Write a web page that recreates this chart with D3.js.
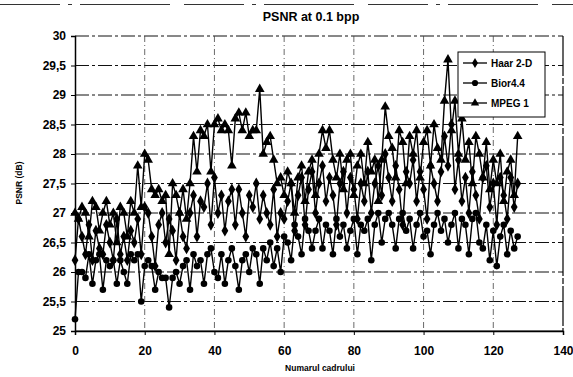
<!DOCTYPE html>
<html>
<head>
<meta charset="utf-8">
<script src="https://cdn.jsdelivr.net/npm/d3@7"></script>
<style>
  body { margin: 0; background: #fff; }
  svg { display: block; }
</style>
</head>
<body>
<div id="chart"></div>
<script>
// PSNR per frame
const haar = [26.2,26.9,26.6,26.3,26.8,26.2,26.7,26.4,26.3,26.8,26.5,26.2,26.9,26.3,26.6,26.2,
  26.7,26.5,26.9,26.3,27.1,27.0,26.6,26.1,26.8,27.0,26.5,26.9,26.7,26.2,27.0,26.6,
  26.4,27.0,27.3,26.6,27.2,27.1,27.5,26.8,27.6,27.0,27.3,26.7,27.2,27.4,26.8,27.4,
  27.0,26.6,27.3,27.1,27.5,26.9,27.3,27.0,26.8,27.4,26.6,27.0,26.9,27.2,27.5,26.7,
  27.3,27.6,26.8,27.4,27.7,27.0,27.5,27.8,27.2,27.6,27.3,26.8,27.5,27.7,27.0,27.6,
  27.4,26.9,27.5,27.2,27.7,27.0,27.5,27.8,27.3,28.0,27.6,27.2,27.8,27.4,26.8,27.7,
  27.5,27.9,27.2,27.7,27.4,26.9,27.8,27.5,27.2,27.7,28.3,27.8,28.5,27.4,27.9,27.2,
  27.6,27.0,27.7,27.3,26.9,27.6,27.8,27.1,27.5,26.8,27.6,27.3,26.9,27.6,27.1,27.5];

const bior = [25.2,26.0,26.0,25.9,26.3,25.8,26.2,26.3,25.7,26.2,26.1,26.2,25.8,26.2,26.0,25.8,
  26.3,26.2,26.3,25.5,26.1,26.2,26.1,25.7,26.0,25.9,25.9,25.4,25.9,26.0,25.8,26.1,
  26.2,25.7,26.3,26.1,26.2,25.8,26.3,26.4,26.0,25.9,26.3,25.8,26.2,26.4,26.1,25.7,
  26.2,26.3,26.0,26.4,26.3,25.8,26.4,26.2,26.5,26.1,26.4,26.0,26.6,26.5,26.2,26.8,
  26.6,26.3,26.9,26.7,26.4,26.7,26.9,26.4,26.8,26.7,26.3,26.9,26.6,26.8,26.4,26.7,
  26.9,26.3,26.8,26.7,26.9,26.2,26.8,27.0,26.5,26.9,27.0,26.8,26.4,26.9,27.0,26.7,
  26.9,26.4,26.8,27.0,26.6,26.7,26.3,26.8,27.0,26.7,26.9,26.5,26.8,27.0,26.4,26.9,
  26.8,26.3,26.9,27.0,26.5,26.4,26.8,26.2,26.7,26.1,26.6,26.8,26.3,26.7,26.4,26.6];

const mpeg = [27.0,26.9,27.1,27.0,26.6,27.2,27.1,26.7,27.0,27.2,26.8,27.0,26.5,27.1,27.0,26.6,
  27.2,27.0,27.8,27.1,28.0,27.9,27.4,27.3,27.4,27.2,27.3,26.3,27.5,27.3,27.0,27.4,
  26.9,27.5,28.3,27.7,28.4,28.3,28.5,27.7,28.5,28.6,28.4,28.5,28.4,27.8,28.6,28.7,
  28.4,28.7,28.3,28.4,28.4,29.1,28.0,28.2,28.3,27.9,27.5,27.6,27.3,27.7,27.5,27.0,
  27.6,27.8,27.2,27.7,27.9,27.3,28.0,28.4,28.1,28.4,27.9,27.6,28.0,27.4,27.9,28.0,
  27.3,27.8,28.0,27.5,28.2,27.7,27.9,27.2,27.9,28.8,28.3,28.1,27.6,28.4,28.2,27.5,
  28.3,28.0,28.4,27.6,28.2,28.4,27.8,28.5,28.1,27.9,28.9,29.6,28.4,28.9,28.0,28.6,
  27.9,28.2,27.5,28.3,28.0,27.6,28.2,27.4,27.9,27.5,28.0,27.2,27.7,27.9,27.3,28.3];

const seriesNames = ["Haar 2-D", "Bior4.4", "MPEG 1"];
const yTicks = [25, 25.5, 26, 26.5, 27, 27.5, 28, 28.5, 29, 29.5, 30];
const xTicks = [0, 20, 40, 60, 80, 100, 120, 140];

const width = 573, height = 377;
const margin = { top: 36, right: 10, bottom: 46, left: 75 };

const svg = d3.select("#chart").append("svg")
  .attr("width", width)
  .attr("height", height);

// top edge of the scanned chart frame
svg.append("line")
  .attr("x1", 0).attr("x2", width)
  .attr("y1", 4.5).attr("y2", 4.5)
  .attr("stroke", "#333")
  .attr("stroke-width", 1.2)
  .attr("stroke-dasharray", "60,8,4,8,90,14");

const x = d3.scaleLinear().domain([0, 140]).range([margin.left, width - margin.right]);
const y = d3.scaleLinear().domain([25, 30]).range([height - margin.bottom, margin.top]);

// horizontal grid
svg.append("g")
  .selectAll("line")
  .data(yTicks)
  .join("line")
  .attr("x1", x(0)).attr("x2", x(140))
  .attr("y1", d => y(d)).attr("y2", d => y(d))
  .attr("stroke", "#111")
  .attr("stroke-width", 1)
  .attr("stroke-dasharray", d => d === 25 ? null : "14,3,3,3");

// vertical grid
svg.append("g")
  .selectAll("line")
  .data(xTicks.slice(1, -1))
  .join("line")
  .attr("x1", d => x(d)).attr("x2", d => x(d))
  .attr("y1", y(30)).attr("y2", y(25))
  .attr("stroke", "#444")
  .attr("stroke-width", 0.8)
  .attr("stroke-dasharray", "6,3,1,3");

// right edge of plot area
svg.append("line")
  .attr("x1", x(140)).attr("x2", x(140))
  .attr("y1", y(30)).attr("y2", y(25))
  .attr("stroke", "#000")
  .attr("stroke-width", 1.2)
  .attr("stroke-dasharray", "40,2,6,2");

// axes
const yAxis = svg.append("g")
  .attr("transform", `translate(${x(0)},0)`)
  .call(d3.axisLeft(y).tickValues(yTicks).tickSize(4)
    .tickFormat(d => String(d).replace(".", ",")));
const xAxis = svg.append("g")
  .attr("transform", `translate(0,${y(25)})`)
  .call(d3.axisBottom(x).tickValues(xTicks).tickSize(4));

[xAxis, yAxis].forEach(g => {
  g.select(".domain").attr("stroke", "#000").attr("stroke-width", 1.5);
  g.selectAll(".tick line").attr("stroke", "#000");
  g.selectAll("text")
    .attr("font-family", "Liberation Sans, Arial, sans-serif")
    .attr("font-size", 12)
    .attr("font-weight", "bold")
    .attr("fill", "#000");
});
yAxis.selectAll("text").attr("x", -9);
xAxis.selectAll("text").attr("y", 15);

// series
const frames = d3.range(haar.length);
const symbols = [d3.symbolDiamond, d3.symbolCircle, d3.symbolTriangle];
const allSeries = [haar, bior, mpeg];
const line = d3.line().x((d, i) => x(i)).y(d => y(d));

allSeries.forEach((vals, k) => {
  const g = svg.append("g");
  g.append("path")
    .datum(vals)
    .attr("d", line)
    .attr("fill", "none")
    .attr("stroke", "#000")
    .attr("stroke-width", 1.4);
  g.selectAll("path.m")
    .data(frames)
    .join("path")
    .attr("class", "m")
    .attr("transform", i => `translate(${x(i)},${y(vals[i])})`)
    .attr("d", d3.symbol().type(symbols[k]).size(k === 1 ? 34 : 40))
    .attr("fill", "#000");
});

// legend
const legend = svg.append("g").attr("transform", "translate(458,52)");
legend.append("rect")
  .attr("width", 87).attr("height", 65)
  .attr("fill", "#fff")
  .attr("stroke", "#000")
  .attr("stroke-width", 1);
seriesNames.forEach((name, k) => {
  const ly = 11 + k * 20;
  legend.append("line")
    .attr("x1", 5).attr("x2", 29)
    .attr("y1", ly).attr("y2", ly)
    .attr("stroke", "#000").attr("stroke-width", 1.3);
  legend.append("path")
    .attr("transform", `translate(17,${ly})`)
    .attr("d", d3.symbol().type(symbols[k]).size(30))
    .attr("fill", "#000");
  legend.append("text")
    .attr("x", 33).attr("y", ly + 4)
    .attr("font-family", "Liberation Sans, Arial, sans-serif")
    .attr("font-size", 10)
    .attr("font-weight", "bold")
    .text(name);
});

// titles
svg.append("text")
  .attr("x", 311).attr("y", 21)
  .attr("text-anchor", "middle")
  .attr("font-family", "Liberation Sans, Arial, sans-serif")
  .attr("font-size", 12.5)
  .attr("font-weight", "bold")
  .text("PSNR at 0.1  bpp");

svg.append("text")
  .attr("transform", "translate(22,183) rotate(-90)")
  .attr("text-anchor", "middle")
  .attr("font-family", "Liberation Sans, Arial, sans-serif")
  .attr("font-size", 8.5)
  .attr("font-weight", "bold")
  .text("PSNR (dB)");

svg.append("text")
  .attr("x", 320).attr("y", 371)
  .attr("text-anchor", "middle")
  .attr("font-family", "Liberation Sans, Arial, sans-serif")
  .attr("font-size", 8.5)
  .attr("font-weight", "bold")
  .text("Numarul cadrului");
</script>
</body>
</html>
